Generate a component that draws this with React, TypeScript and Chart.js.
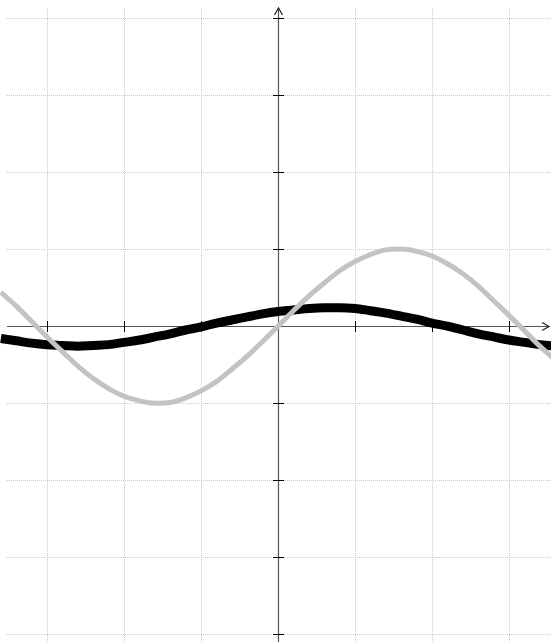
import React, { useEffect, useRef } from "react";
import { Chart, registerables } from "chart.js";

Chart.register(...registerables);

// sample positions along the horizontal axis
const xValues = [
  -3.8, -3.6, -3.4, -3.2, -3.0, -2.8, -2.6, -2.4, -2.2, -2.0, -1.8, -1.6, -1.4,
  -1.2, -1.0, -0.8, -0.6, -0.4, -0.2, 0.0, 0.2, 0.4, 0.6, 0.8, 1.0, 1.2, 1.4,
  1.6, 1.8, 2.0, 2.2, 2.4, 2.6, 2.8, 3.0, 3.2, 3.4, 3.6, 3.8,
];

// light gray wave
const grayValues = [
  0.61, 0.44, 0.26, 0.06, -0.14, -0.33, -0.52, -0.68, -0.81, -0.91, -0.97,
  -1.0, -0.99, -0.93, -0.84, -0.72, -0.56, -0.39, -0.2, 0.0, 0.2, 0.39, 0.56,
  0.72, 0.84, 0.93, 0.99, 1.0, 0.97, 0.91, 0.81, 0.68, 0.52, 0.33, 0.14, -0.06,
  -0.26, -0.44, -0.61,
];

// thick black wave
const blackValues = [
  -0.13, -0.16, -0.19, -0.22, -0.24, -0.25, -0.26, -0.25, -0.24, -0.21, -0.18,
  -0.14, -0.1, -0.05, -0.01, 0.04, 0.08, 0.12, 0.16, 0.19, 0.21, 0.23, 0.24,
  0.24, 0.23, 0.2, 0.17, 0.13, 0.09, 0.04, 0.0, -0.05, -0.1, -0.14, -0.18,
  -0.21, -0.24, -0.26, -0.27,
];

// grid / tick positions
const xGridValues = [-3, -2, -1, 0, 1, 2, 3];
const yGridValues = [-4, -3, -2, -1, 0, 1, 2, 3, 4];
const xTickMarks = [-3, -2, -1, 1, 2, 3];
const yTickMarks = [-4, -3, -2, -1, 1, 2, 3, 4];

const X_MIN = -3.52;
const X_MAX = 3.545;
const Y_MIN = -4.1;
const Y_MAX = 4.117;

const axesPlugin = {
  id: "centerAxes",
  beforeDatasetsDraw(chart: any) {
    const { ctx, chartArea, scales } = chart;
    const xs = scales.x;
    const ys = scales.y;
    const x0 = Math.round(xs.getPixelForValue(0)) + 0.5;
    const y0 = Math.round(ys.getPixelForValue(0)) + 0.5;
    ctx.save();
    // axes lines
    ctx.strokeStyle = "#555";
    ctx.lineWidth = 1.2;
    ctx.beginPath();
    ctx.moveTo(chartArea.left, y0);
    ctx.lineTo(chartArea.right - 2, y0);
    ctx.moveTo(x0, chartArea.bottom);
    ctx.lineTo(x0, chartArea.top - 1);
    ctx.stroke();
    // arrowheads
    ctx.strokeStyle = "#222";
    ctx.lineWidth = 1.2;
    const tipX = chartArea.right - 2;
    ctx.beginPath();
    ctx.moveTo(tipX - 7, y0 - 4);
    ctx.lineTo(tipX, y0);
    ctx.lineTo(tipX - 7, y0 + 4);
    ctx.stroke();
    const tipY = chartArea.top - 1;
    ctx.beginPath();
    ctx.moveTo(x0 - 4, tipY + 7);
    ctx.lineTo(x0, tipY);
    ctx.lineTo(x0 + 4, tipY + 7);
    ctx.stroke();
    // tick marks
    ctx.strokeStyle = "#000";
    ctx.lineWidth = 1;
    ctx.beginPath();
    xTickMarks.forEach((v) => {
      const px = Math.round(xs.getPixelForValue(v)) + 0.5;
      ctx.moveTo(px, y0 - 5.5);
      ctx.lineTo(px, y0 + 5.5);
    });
    yTickMarks.forEach((v) => {
      const py = Math.round(ys.getPixelForValue(v)) + 0.5;
      ctx.moveTo(x0 - 5.5, py);
      ctx.lineTo(x0 + 5.5, py);
    });
    ctx.stroke();
    ctx.restore();
  },
};

export default function App() {
  const canvasRef = useRef<HTMLCanvasElement | null>(null);

  useEffect(() => {
    if (!canvasRef.current) return;
    const chart = new Chart(canvasRef.current, {
      type: "line",
      data: {
        datasets: [
          {
            label: "gray",
            data: xValues.map((x, i) => ({ x, y: grayValues[i] })),
            borderColor: "#c3c3c3",
            borderWidth: 5,
            pointRadius: 0,
            cubicInterpolationMode: "monotone",
            clip: false as any,
            order: 0,
          },
          {
            label: "black",
            data: xValues.map((x, i) => ({ x, y: blackValues[i] })),
            borderColor: "#000000",
            borderWidth: 9,
            pointRadius: 0,
            cubicInterpolationMode: "monotone",
            clip: false as any,
            order: 1,
          },
        ],
      },
      options: {
        animation: false,
        responsive: false,
        devicePixelRatio: 1,
        layout: { padding: { left: 7, top: 9, right: 0, bottom: 0 } },
        plugins: {
          legend: { display: false },
          tooltip: { enabled: false },
        },
        scales: {
          x: {
            type: "linear",
            min: X_MIN,
            max: X_MAX,
            afterBuildTicks: (scale: any) => {
              scale.ticks = xGridValues.map((v) => ({ value: v }));
            },
            ticks: { display: false },
            grid: { color: "#c8c8c8", lineWidth: 1, drawTicks: false },
            border: { display: false, dash: [1, 1] },
          },
          y: {
            type: "linear",
            min: Y_MIN,
            max: Y_MAX,
            afterBuildTicks: (scale: any) => {
              scale.ticks = yGridValues.map((v) => ({ value: v }));
            },
            ticks: { display: false },
            grid: { color: "#c8c8c8", lineWidth: 1, drawTicks: false },
            border: { display: false, dash: [1, 1] },
          },
        },
      },
      plugins: [axesPlugin],
    });
    return () => chart.destroy();
  }, []);

  return (
    <div style={{ position: "absolute", left: 0, top: 0, width: 551, height: 642, background: "#fff" }}>
      <canvas ref={canvasRef} width={551} height={642} style={{ display: "block" }} />
    </div>
  );
}
